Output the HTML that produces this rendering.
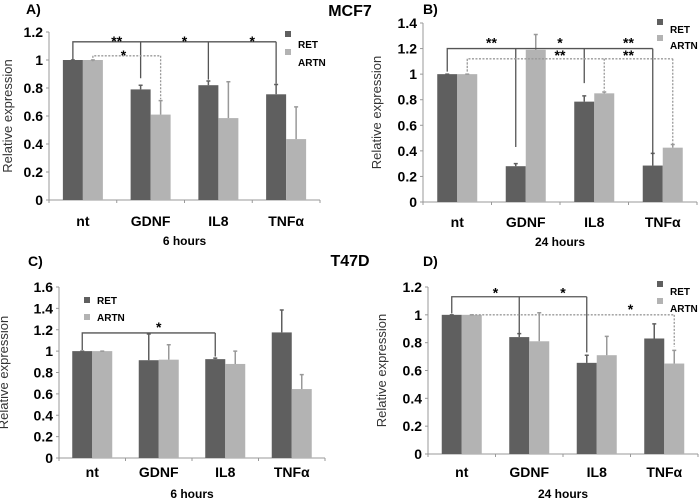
<!DOCTYPE html>
<html><head><meta charset="utf-8">
<style>
body{margin:0;background:#fff;}
svg{display:block;font-family:"Liberation Sans",Arial,sans-serif;}
</style></head>
<body>
<svg id="chart" width="700" height="503" viewBox="0 0 700 503">
<text x="350" y="16" font-size="16" font-weight="bold" text-anchor="middle">MCF7</text>
<text x="350" y="266" font-size="16" font-weight="bold" text-anchor="middle">T47D</text>
</svg>
<script>
const categories = ["nt","GDNF","IL8","TNFα"];
const retA = [1, 0.79, 0.82, 0.755];
const retErrA = [0, 0.03, 0.03, 0.07];
const artnA = [1, 0.61, 0.585, 0.435];
const artnErrA = [0, 0.10, 0.26, 0.23];
const retB = [1, 0.28, 0.785, 0.285];
const retErrB = [0, 0.02, 0.045, 0.095];
const artnB = [1, 1.19, 0.85, 0.425];
const artnErrB = [0, 0.12, 0.01, 0.025];
const retC = [1, 0.915, 0.925, 1.175];
const retErrC = [0, 0.245, 0.01, 0.21];
const artnC = [1, 0.92, 0.88, 0.645];
const artnErrC = [0, 0.14, 0.12, 0.135];
const retD = [1, 0.84, 0.655, 0.83];
const retErrD = [0, 0.025, 0.055, 0.105];
const artnD = [1, 0.81, 0.71, 0.65];
const artnErrD = [0, 0.205, 0.135, 0.095];
const ticksA = ["0","0.2","0.4","0.6","0.8","1","1.2"];
const ticksB = ["0","0.2","0.4","0.6","0.8","1","1.2","1.4"];
const ticksC = ["0","0.2","0.4","0.6","0.8","1","1.2","1.4","1.6"];
const ticksD = ["0","0.2","0.4","0.6","0.8","1","1.2"];

const svg = document.getElementById('chart');
const NS = 'http://www.w3.org/2000/svg';
function mk(tag, attrs, parent){
  const e = document.createElementNS(NS, tag);
  for (const k in attrs) e.setAttribute(k, attrs[k]);
  (parent||svg).appendChild(e);
  return e;
}
const RETC = '#5f5f5f', ARTNC = '#b3b3b3';

function panel(p){
  const g = mk('g', {});
  
  
  const yMax = parseFloat(p.ticks[p.ticks.length-1]);
  const y = v => p.y0 - (v / yMax) * (p.y0 - p.yTop);
  const band = (p.x1 - p.x0) / categories.length;
  const cx = i => p.x0 + band * (i + 0.5);
  const bw = 20;
  const retX = i => cx(i) - bw;
  const artX = i => cx(i);
  const ax = mk('line', {x1:p.x0, y1:p.yTop, x2:p.x0, y2:p.y0, stroke:'#999', 'stroke-width':1}, g);
  
  
  const bx = mk('line', {x1:p.x0-3, y1:p.y0, x2:p.x1, y2:p.y0, stroke:'#999', 'stroke-width':1}, g);
  
  
  p.ticks.forEach(t => {
    const v = parseFloat(t);
    mk('line', {x1:p.x0-3, y1:y(v), x2:p.x0, y2:y(v), stroke:'#999'}, g);
    const tx = mk('text', {x:p.x0-6, y:y(v)+5, 'font-size':14, 'font-weight':'bold', 'text-anchor':'end'}, g);
    tx.textContent = t;
    
    
  });
  for (let i = 0; i <= categories.length; i++) {
    mk('line', {x1:p.x0+band*i, y1:p.y0, x2:p.x0+band*i, y2:p.y0+3, stroke:'#999'}, g);
  }
  categories.forEach((c, i) => {
    const t = mk('text', {x:cx(i), y:p.labY, 'font-size':14, 'font-weight':'bold', 'text-anchor':'middle'}, g);
    t.textContent = c;
    
    
    const r = mk('rect', {x:retX(i), y:y(p.ret[i]), width:bw, height:p.y0-y(p.ret[i]), fill:RETC}, g);
    
    
    const a = mk('rect', {x:artX(i), y:y(p.artn[i]), width:bw, height:p.y0-y(p.artn[i]), fill:ARTNC}, g);
    
    
    const rx = retX(i)+bw/2, axx = artX(i)+bw/2;
    const e1 = mk('path', {d:`M${rx},${y(p.ret[i])}V${y(p.ret[i]+p.retErr[i])}M${rx-2},${y(p.ret[i]+p.retErr[i])}h4`, stroke:RETC, 'stroke-width':1.5, fill:'none'}, g);
    
    
    const e2 = mk('path', {d:`M${axx},${y(p.artn[i])}V${y(p.artn[i]+p.artnErr[i])}M${axx-2},${y(p.artn[i]+p.artnErr[i])}h4`, stroke:'#999', 'stroke-width':1.5, fill:'none'}, g);
    
    
  });
  p.brackets.forEach(b => {
    const xs = b.drops.map(d => (d[0]==='r' ? retX(d[1]) : artX(d[1])) + bw/2);
    let d = `M${xs[0]},${y(b.drops[0][2])}V${y(b.level)}H${xs[xs.length-1]}`;
    b.drops.forEach((dr, k) => { d += `M${xs[k]},${y(b.level)}V${y(dr[2])}`; });
    const pa = mk('path', {d:d, stroke: b.dash ? '#999' : '#555', 'stroke-width':1.3, fill:'none', 'stroke-dasharray': b.dash ? '2,1.5' : 'none'}, g);
    
    
    b.stars.forEach(s => {
      const st = mk('text', {x:cx(s[0]), y:y(b.level)+s[2], 'font-size':14, 'font-weight':'bold', 'text-anchor':'middle'}, g);
      st.textContent = s[1];
      
      
    });
  });
  const pl = mk('text', {x:p.plx, y:p.ply, 'font-size':14, 'font-weight':'bold'}, g);
  pl.textContent = p.label;
  
  
  const xt = mk('text', {x:(p.x0+p.x1)/2, y:p.xtY, 'font-size':12, 'font-weight':'bold', 'text-anchor':'middle'}, g);
  xt.textContent = p.xtitle;
  
  
  const ytx = p.ytx, yty = (p.y0+p.yTop)/2;
  const yt = mk('text', {x:ytx, y:yty, 'font-size':13, 'text-anchor':'middle', fill:'#333', transform:`rotate(-90 ${ytx} ${yty})`}, g);
  yt.textContent = 'Relative expression';
  
  
  [['RET',RETC],['ARTN',ARTNC]].forEach((l, k) => {
    const sq = mk('rect', {x:p.lg[0], y:p.lg[1]+k*p.lg[4], width:6, height:6, fill:l[1]}, g);
    
    
    const lt = mk('text', {x:p.lg[2], y:p.lg[3]+k*p.lg[4], 'font-size':10, 'font-weight':'bold'}, g);
    lt.textContent = l[0];
    
    
  });
}

panel({id:'panel-a', label:'A)', plx:26, ply:14, x0:49, x1:320, y0:200, yTop:32, ticks:ticksA,
  ret:retA, retErr:retErrA, artn:artnA, artnErr:artnErrA, labY:226, xtY:245, xtitle:'6 hours', ytx:12,
  lg:[285,31,298,48,18],
  brackets:[
    {level:1.13, dash:false, drops:[['r',0,1.0],['r',1,0.87],['r',2,0.86],['r',3,0.83]],
     stars:[[0.5,'**',4],[1.5,'*',4],[2.5,'*',4]]},
    {level:1.03, dash:true, drops:[['a',0,0.99],['a',1,0.72]], stars:[[0.6,'*',4]]}
  ]});
panel({id:'panel-b', label:'B)', plx:423, ply:14, x0:423, x1:697, y0:202, yTop:23, ticks:ticksB,
  ret:retB, retErr:retErrB, artn:artnB, artnErr:artnErrB, labY:227, xtY:246, xtitle:'24 hours', ytx:381,
  lg:[657,19,670,33,16],
  brackets:[
    {level:1.2, dash:false, drops:[['r',0,1.02],['r',1,0.43],['r',2,0.93],['r',3,0.37]],
     stars:[[0.5,'**',-1],[1.5,'*',-1],[2.5,'**',-1]]},
    {level:1.12, dash:true, drops:[['a',0,1.02],['a',2,0.87],['a',3,0.45]],
     stars:[[1.5,'**',1],[2.5,'**',1]]}
  ]});
panel({id:'panel-c', label:'C)', plx:28, ply:266, x0:59, x1:325, y0:458, yTop:287, ticks:ticksC,
  ret:retC, retErr:retErrC, artn:artnC, artnErr:artnErrC, labY:477, xtY:498, xtitle:'6 hours', ytx:8,
  lg:[84,297,97,304,17],
  brackets:[
    {level:1.17, dash:false, drops:[['r',0,1.01],['r',2,0.95]], stars:[[1,'*',-1]]}
  ]});
panel({id:'panel-d', label:'D)', plx:423, ply:266, x0:428, x1:698, y0:454, yTop:287, ticks:ticksD,
  ret:retD, retErr:retErrD, artn:artnD, artnErr:artnErrD, labY:477, xtY:498, xtitle:'24 hours', ytx:386,
  lg:[657,281,670,295,17],
  brackets:[
    {level:1.13, dash:false, drops:[['r',0,1.01],['r',1,0.86],['r',2,0.73]],
     stars:[[0.5,'*',1],[1.5,'*',1]]},
    {level:1.0, dash:true, drops:[['a',0,1.0],['a',3,0.77]], stars:[[2.5,'*',-1]]}
  ]});
</script>
</body></html>
